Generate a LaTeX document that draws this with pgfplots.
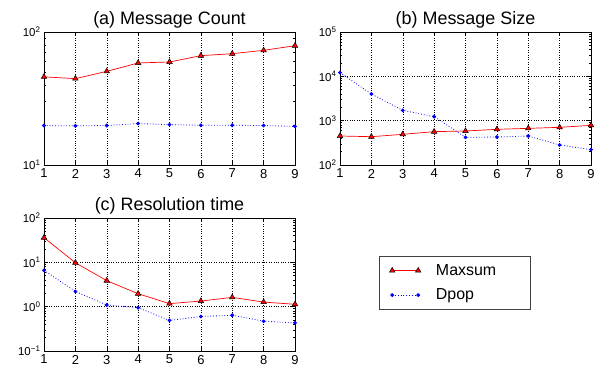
\documentclass[border=0pt]{standalone}
\usepackage{fontspec}
\setmainfont{Liberation Sans}
\usepackage{pgfplots}
\pgfplotsset{compat=1.18}
\begin{document}
\begin{tikzpicture}
\useasboundingbox (0bp,0bp) rectangle (595bp,365bp);
\pgfplotsset{
  every axis/.append style={
    scale only axis, width=251bp, height=133bp,
    xmin=1, xmax=9, xtick={1,2,3,4,5,6,7,8,9},
    ymode=log,
    grid=major, major grid style={black, dotted, line width=0.5pt},
    yticklabel style={font=\fontsize{11.5}{13}\selectfont},
    xticklabel style={font=\fontsize{13}{15}\selectfont, yshift=-0.5bp},
    /pgf/number format/assume math mode=true,
    title style={font=\fontsize{18}{20}\selectfont, yshift=-6bp},
    axis line style={black, line width=0.6pt},
    tick style={black, line width=0.5pt},
    major tick length=4bp, minor tick length=2.2bp,
  },
  maxs/.style={red, solid, line width=0.7pt, mark=triangle*, mark size=3.2bp, mark options={solid, fill=red, draw=black, line width=0.5pt}},
  dpop/.style={blue, dash pattern=on 0.8pt off 2pt, line width=0.8pt, mark=*, mark size=1.5bp, mark options={solid, fill=blue, draw=blue}},
}
% (a)
\begin{axis}[at={(44bp,200bp)}, anchor=south west,
  title={(a) Message Count},
  ymin=10, ymax=100, ytick={10,100},
  yticklabels={10\textsuperscript{1},10\textsuperscript{2}},
  minor ytick={20,30,40,50,60,70,80,90},
]
\addplot[maxs] coordinates {(1,46) (2,44.6) (3,50.6) (4,58.5) (5,59.5) (6,66.4) (7,68.7) (8,72.8) (9,78.9)};
\addplot[dpop] coordinates {(1,19.8) (2,19.7) (3,19.8) (4,20.5) (5,20.1) (6,19.9) (7,19.9) (8,19.8) (9,19.5)};
\end{axis}
% (b)
\begin{axis}[at={(340bp,200bp)}, anchor=south west,
  title={(b) Message Size},
  ymin=100, ymax=100000, ytick={100,1000,10000,100000},
  yticklabels={10\textsuperscript{2},10\textsuperscript{3},10\textsuperscript{4},10\textsuperscript{5}},
  minor ytick={200,300,400,500,600,700,800,900,2000,3000,4000,5000,6000,7000,8000,9000,20000,30000,40000,50000,60000,70000,80000,90000},
]
\addplot[maxs] coordinates {(1,451) (2,435) (3,492) (4,565) (5,585) (6,638) (7,671) (8,707) (9,785)};
\addplot[dpop] coordinates {(1,12100) (2,4000) (3,1710) (4,1230) (5,421) (6,428) (7,451) (8,283) (9,222)};
\end{axis}
% (c)
\begin{axis}[at={(44bp,14bp)}, anchor=south west,
  title={(c) Resolution time},
  ymin=0.1, ymax=100, ytick={0.1,1,10,100},
  yticklabels={10\textsuperscript{−1},10\textsuperscript{0},10\textsuperscript{1},10\textsuperscript{2}},
  minor ytick={0.2,0.3,0.4,0.5,0.6,0.7,0.8,0.9,2,3,4,5,6,7,8,9,20,30,40,50,60,70,80,90},
  legend style={at={(1.335,0.714)}, anchor=north west, draw=black!75, line width=0.7pt,
    font=\fontsize{16}{18}\selectfont, inner xsep=10bp, inner ysep=6bp, row sep=8bp,
    cells={anchor=west}},
  legend image code/.code={\draw[mark repeat=1,mark phase=1,#1] plot coordinates {(0bp,0bp) (26bp,0bp)};},
]
\addplot[maxs] coordinates {(1,36) (2,9.8) (3,3.86) (4,1.96) (5,1.17) (6,1.34) (7,1.62) (8,1.27) (9,1.13)};
\addlegendentry{\hspace*{13bp}Maxsum\hspace*{22bp}}
\addplot[dpop] coordinates {(1,6.6) (2,2.2) (3,1.09) (4,0.95) (5,0.49) (6,0.60) (7,0.64) (8,0.47) (9,0.43)};
\addlegendentry{\hspace*{13bp}Dpop}
\end{axis}
\end{tikzpicture}
\end{document}
